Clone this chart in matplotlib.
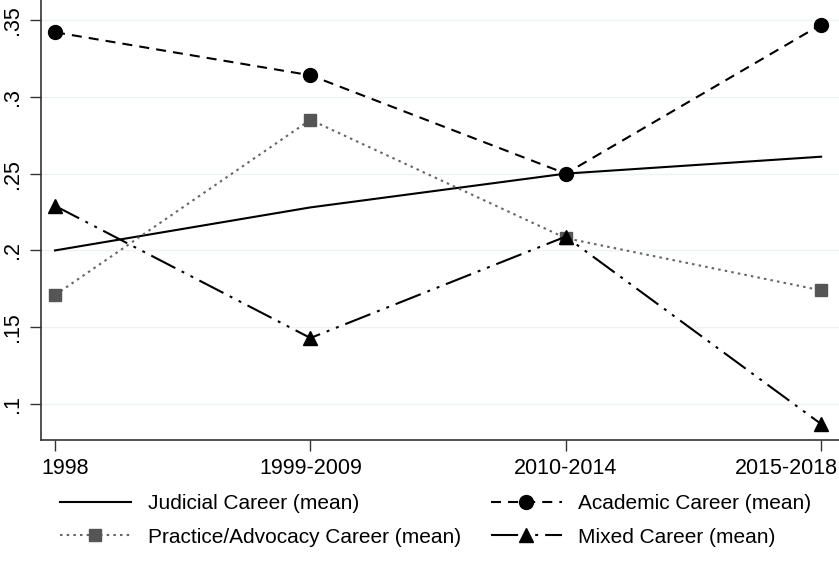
import matplotlib
matplotlib.use("Agg")
import matplotlib.pyplot as plt
from matplotlib.transforms import ScaledTranslation

periods = ["1998", "1999-2009", "2010-2014", "2015-2018"]
judicial = [0.200, 0.228, 0.250, 0.261]
academic = [0.342, 0.314, 0.250, 0.347]
practice = [0.171, 0.285, 0.208, 0.174]
mixed = [0.229, 0.143, 0.209, 0.087]
yticks = [0.1, 0.15, 0.2, 0.25, 0.3, 0.35]
ytick_labels = [".1", ".15", ".2", ".25", ".3", ".35"]

plt.rcParams['font.family'] = ["Liberation Sans", 'DejaVu Sans']

fig = plt.figure(figsize=(8.39, 5.61), dpi=100)
ax = fig.add_axes([41/839, 1-440/561, 1-41/839, 440/561])
x = list(range(len(periods)))

ax.plot(x, judicial, color="black", lw=1.5, label="Judicial Career (mean)")
ax.plot(x, academic, color="black", lw=1.5, ls=(0, (4.8, 3.4)), marker="o", ms=10,
        label="Academic Career (mean)")
ax.plot(x, practice, color="#666666", lw=1.5, ls=(0, (1.2, 2.0)), marker="s", ms=9,
        markerfacecolor="#555555", markeredgecolor="#555555",
        label="Practice/Advocacy Career (mean)")
ax.plot(x, mixed, color="black", lw=1.5, ls=(0, (13, 3.4, 1.4, 3.4, 1.4, 3.4)),
        marker="^", ms=10, label="Mixed Career (mean)")

ax.set_xlim(-0.055, 3.07)
ax.set_ylim(0.0766, 0.363)
ax.set_xticks(x)
ax.set_xticklabels(periods, fontsize=15.5)
ax.set_yticks(yticks)
ax.set_yticklabels(ytick_labels, fontsize=15.5, rotation=90, va="center")
ax.tick_params(axis="both", direction="out", length=8, width=1, color="#333333")
ax.tick_params(axis="x", pad=5)
ax.tick_params(axis="y", pad=5)
ax.grid(axis="y", color="#eef2f2", lw=1)
ax.set_axisbelow(True)
for s in ["top", "right"]:
    ax.spines[s].set_visible(False)
for s in ["left", "bottom"]:
    ax.spines[s].set_color("#333333")
    ax.spines[s].set_linewidth(1.2)

# shift edge labels so they stay inside the figure (as in the reference)
xl = ax.get_xticklabels()
xl[0].set_transform(xl[0].get_transform() + ScaledTranslation(10/100, 0, fig.dpi_scale_trans))
xl[-1].set_transform(xl[-1].get_transform() + ScaledTranslation(-35/100, 0, fig.dpi_scale_trans))

handles, labels = ax.get_legend_handles_labels()
order = [0, 2, 1, 3]
leg = fig.legend([handles[i] for i in order], [labels[i] for i in order],
                 loc="upper left", bbox_to_anchor=(60/839, 1-494/561), ncol=2, frameon=False,
                 fontsize=15, handlelength=3.4, columnspacing=1.45, handletextpad=0.8,
                 labelspacing=0.7, borderpad=0, borderaxespad=0)
fig.savefig("out.png", dpi=100)
